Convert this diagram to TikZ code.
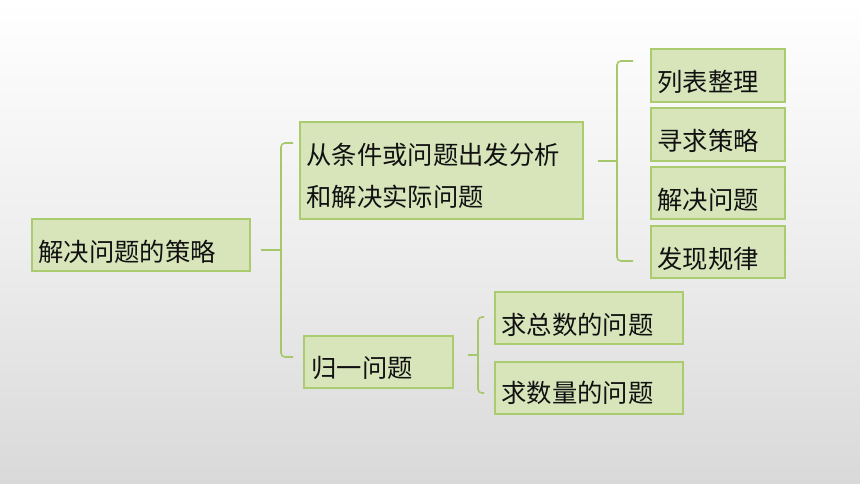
\documentclass[tikz,border=0pt]{standalone}
\usepackage{fontspec}
\newfontfamily\cjk{Noto Sans CJK SC}
\usetikzlibrary{calc}
\definecolor{boxfill}{HTML}{D8E5BB}
\definecolor{boxline}{HTML}{AACB6E}
\definecolor{brkline}{HTML}{A6C86A}
\definecolor{txtcol}{HTML}{111111}
\definecolor{bgbot}{HTML}{D9D9D9}
\tikzset{
  box/.style={draw=boxline, line width=1.4pt, fill=boxfill, rectangle, inner sep=0pt},
  txt/.style={font=\cjk\fontsize{19pt}{31.5pt}\selectfont, text=txtcol, inner sep=0pt, anchor=west, align=left},
  brk/.style={draw=brkline, line width=1.2pt, rounded corners=3pt},
}
\newcommand{\boxat}[5]{% name, x1, y1, x2, y2
  \node[box, minimum width={(#4-#2)*0.75pt}, minimum height={(#5-#3)*0.75pt}] (#1) at ({(#2+#4)/2},{(#3+#5)/2}) {};}
\begin{document}
\begin{tikzpicture}[x=0.75pt, y=-0.75pt]
\useasboundingbox (0,0) rectangle (860,484);
\shade[top color=white, bottom color=bgbot, middle color=white!55!bgbot] (0,0) rectangle (860,484);

% boxes
\boxat{b1}{32}{219}{250}{271}
\boxat{b2}{300}{122}{583}{219}
\boxat{b3}{304}{336}{453}{388}
\boxat{r1}{651}{49}{785}{102}
\boxat{r2}{651}{108}{785}{161}
\boxat{r3}{651}{167}{785}{219}
\boxat{r4}{651}{226}{785}{278}
\boxat{s1}{495}{292}{683}{344}
\boxat{s2}{495}{362}{683}{414}

% texts
\node[txt] (t1) at ($(b1.west)+(7,7)$) {解决问题的策略};
\node[txt] (t2) at ($(b2.west)+(7,5)$) {从条件或问题出发分析\\和解决实际问题};
\node[txt] (t3) at ($(b3.west)+(8,6)$) {归一问题};
\node[txt] (tr1) at ($(r1.west)+(7,6.5)$) {列表整理};
\node[txt] (tr2) at ($(r2.west)+(7,6.5)$) {寻求策略};
\node[txt] (tr3) at ($(r3.west)+(7,6.5)$) {解决问题};
\node[txt] (tr4) at ($(r4.west)+(7,6.5)$) {发现规律};
\node[txt] (ts1) at ($(s1.west)+(7,7)$) {求总数的问题};
\node[txt] (ts2) at ($(s2.west)+(7,5)$) {求数量的问题};

% bracket 1
\coordinate (k1s) at ($(b1.east)+(10,5)$);
\coordinate (k1m) at (281,250);
\coordinate (k1t) at (293,143);
\coordinate (k1b) at (293,357);
\draw[brk] (k1t) -| (k1m) |- (k1b);
\draw[brk] (k1s) -- (k1m);

% bracket 2
\coordinate (k2s) at ($(b2.east)+(14,-9.5)$);
\coordinate (k2m) at (617,161);
\coordinate (k2t) at (633,61);
\coordinate (k2b) at (633,261);
\draw[brk] (k2t) -| (k2m) |- (k2b);
\draw[brk] (k2s) -- (k2m);

% bracket 3
\coordinate (k3s) at ($(b3.east)+(14,-7)$);
\coordinate (k3m) at (478,355);
\coordinate (k3t) at (484,317);
\coordinate (k3b) at (484,393);
\draw[brk] (k3t) -| (k3m) |- (k3b);
\draw[brk] (k3s) -- (k3m);
\end{tikzpicture}
\end{document}
